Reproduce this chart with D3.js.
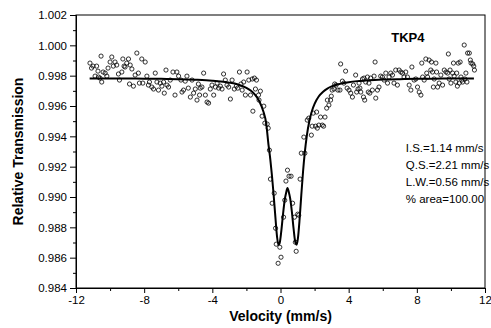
<!DOCTYPE html>
<html>
<head>
<meta charset="utf-8">
<script src="https://cdn.jsdelivr.net/npm/d3@7"></script>
<style>
  body { margin: 0; background: #fff; }
  svg { display: block; }
  text { font-family: "Liberation Sans", Arial, sans-serif; fill: #000; }
</style>
</head>
<body>
<div id="chart"></div>
<script>
const velocity = [
  -11.18,-11.09,-11.00,-10.88,-10.79,-10.71,-10.68,-10.59,-10.53,-10.49,-10.41,-10.29,-10.19,-10.12,-10.00,-9.90,-9.81,-9.71,-9.61,-9.51,-9.45,-9.31,-9.25,-9.18,-9.12,-9.02,-8.92,-8.86,-8.82,-8.72,-8.63,-8.53,-8.43,-8.34,-8.28,-8.14,-8.08,-7.94,-7.84,-7.75,-7.69,-7.55,-7.45,-7.35,-7.25,-7.16,-7.06,-6.96,-6.86,-6.82,-6.72,-6.66,-6.57,-6.47,-6.31,-6.19,-6.08,-5.98,
  -5.84,-5.78,-5.69,-5.59,-5.49,-5.41,-5.29,-5.19,-5.10,-5.00,-4.90,-4.82,-4.75,-4.71,-4.61,-4.51,-4.41,-4.31,-4.22,-4.12,-4.02,-3.92,-3.82,-3.72,-3.63,-3.53,-3.43,-3.34,-3.24,-3.14,-3.04,-2.94,-2.84,-2.71,-2.59,-2.51,-2.41,-2.32,-2.25,-2.16,-2.06,-1.96,-1.86,-1.76,-1.66,-1.62,-1.53,-1.47,-1.41,-1.29,-1.26,-1.18,-1.08,-0.98,
  -0.92,-0.78,-0.72,-0.65,-0.59,-0.49,-0.37,-0.29,-0.25,-0.14,-0.04,0.03,0.18,0.25,0.32,0.41,0.50,0.62,0.71,0.82,0.87,0.92,1.01,1.07,1.15,
  1.22,1.37,1.43,1.57,1.66,1.81,1.86,1.92,2.06,2.12,2.16,2.25,2.35,2.45,2.53,2.61,2.71,2.75,2.84,2.94,2.98,3.03,3.14,3.18,3.26,3.37,3.49,3.53,3.63,3.72,3.82,3.91,4.02,4.12,4.22,4.28,4.41,4.47,4.55,4.61,4.66,
  4.71,4.81,4.87,4.90,4.94,5.00,5.10,5.15,5.19,5.24,5.29,5.39,5.49,5.55,5.59,5.69,5.78,5.88,5.98,6.08,6.18,6.28,6.37,6.47,6.57,6.66,6.76,6.86,6.96,7.06,7.16,7.25,7.35,7.45,7.55,7.65,7.71,7.84,7.94,8.04,8.14,8.24,
  8.29,8.34,8.43,8.53,8.58,8.63,8.72,8.82,8.86,8.92,8.97,9.02,9.12,9.16,9.22,9.31,9.41,9.51,9.61,9.71,9.81,9.85,9.90,9.95,10.00,10.10,10.15,10.19,10.29,10.34,10.38,10.43,10.49,10.54,10.59,10.64,10.69,10.78,10.82,10.88,10.94,10.98,11.08,11.14,11.18,11.28,11.34,11.38
];
const transmission = [
  0.99883,0.99850,0.99863,0.99797,0.99863,0.99830,0.99791,0.99784,0.99929,0.99758,0.99824,0.99817,0.99797,0.99850,0.99890,0.99923,0.99863,0.99890,0.99870,0.99811,0.99771,0.99824,0.99910,0.99863,0.99857,0.99883,0.99910,0.99745,0.99870,0.99844,0.99731,0.99804,0.99949,0.99817,0.99751,0.99910,0.99751,0.99890,0.99797,0.99738,0.99758,0.99725,0.99712,0.99817,0.99758,0.99705,0.99751,0.99731,0.99758,0.99685,0.99837,0.99738,0.99725,0.99771,0.99824,0.99672,0.99824,0.99797,
  0.99771,0.99692,0.99705,0.99764,0.99797,0.99718,0.99659,0.99771,0.99685,0.99712,0.99639,0.99745,0.99672,0.99718,0.99725,0.99817,0.99672,0.99626,0.99619,0.99712,0.99738,0.99672,0.99725,0.99751,0.99718,0.99731,0.99712,0.99811,0.99771,0.99738,0.99725,0.99646,0.99771,0.99712,0.99731,0.99718,0.99824,0.99745,0.99705,0.99758,0.99672,0.99824,0.99771,0.99672,0.99778,0.99566,0.99784,0.99712,0.99771,0.99672,0.99639,0.99698,0.99533,0.99599,
  0.99487,0.99481,0.99454,0.99309,0.99118,0.98959,0.99025,0.98794,0.98689,0.98563,0.98669,0.98603,0.98867,0.98979,0.99105,0.99177,0.99137,0.99137,0.98959,0.98867,0.98702,0.98642,0.98887,0.98880,0.99118,
  0.99289,0.99395,0.99289,0.99507,0.99520,0.99408,0.99467,0.99553,0.99467,0.99560,0.99454,0.99474,0.99527,0.99474,0.99467,0.99527,0.99586,0.99639,0.99606,0.99639,0.99665,0.99705,0.99712,0.99745,0.99738,0.99705,0.99705,0.99877,0.99764,0.99751,0.99830,0.99718,0.99705,0.99685,0.99659,0.99738,0.99804,0.99692,0.99712,0.99751,0.99718,
  0.99692,0.99778,0.99659,0.99784,0.99639,0.99758,0.99791,0.99692,0.99751,0.99685,0.99784,0.99705,0.99797,0.99890,0.99652,0.99705,0.99725,0.99797,0.99791,0.99771,0.99817,0.99751,0.99791,0.99817,0.99804,0.99751,0.99837,0.99738,0.99837,0.99824,0.99817,0.99791,0.99824,0.99791,0.99738,0.99705,0.99857,0.99771,0.99778,0.99725,0.99692,0.99672,
  0.99883,0.99791,0.99771,0.99910,0.99817,0.99791,0.99903,0.99837,0.99890,0.99824,0.99725,0.99778,0.99883,0.99824,0.99725,0.99751,0.99804,0.99738,0.99837,0.99824,0.99817,0.99943,0.99778,0.99837,0.99751,0.99817,0.99883,0.99797,0.99758,0.99817,0.99731,0.99883,0.99751,0.99890,0.99791,0.99771,0.99758,1.00002,0.99778,0.99817,0.99758,0.99949,0.99949,0.99903,0.99883,0.99877,0.99863,0.99837
];

// fitted doublet
const fitVelocity = [-11.2,-10,-9,-8,-7,-6,-5,-4,-3.5,-3,-2.5,-2,-1.75,-1.5,-1.25,-1.0,-0.85,-0.7,-0.6,-0.5,-0.4,-0.3,-0.2,-0.12,-0.05,0.05,0.15,0.25,0.33,0.41,0.49,0.57,0.67,0.77,0.87,0.95,1.02,1.12,1.22,1.32,1.42,1.55,1.7,1.85,2.0,2.25,2.5,2.75,3,3.5,4,4.5,5,6,7,8,9,10,11.35];
const fitTransmission = [0.99782,0.99782,0.99781,0.99780,0.99779,0.99777,0.99773,0.99767,0.99762,0.99754,0.99742,0.99720,0.99702,0.99675,0.99633,0.99562,0.99494,0.99340,0.99250,0.99140,0.99010,0.98867,0.98735,0.98685,0.98696,0.98778,0.98889,0.98982,0.99028,0.99060,0.99032,0.98989,0.98900,0.98789,0.98701,0.98685,0.98725,0.98852,0.99012,0.99163,0.99287,0.99408,0.99504,0.99569,0.99614,0.99664,0.99694,0.99715,0.99729,0.99746,0.99757,0.99764,0.99768,0.99774,0.99777,0.99779,0.99780,0.99781,0.99782];

const xTicks = [-12, -8, -4, 0, 4, 8, 12];
const xMinorTicks = [-10, -6, -2, 2, 6, 10];
const yTicks = [0.984, 0.986, 0.988, 0.990, 0.992, 0.994, 0.996, 0.998, 1.000, 1.002];
const yMinorTicks = [0.985, 0.987, 0.989, 0.991, 0.993, 0.995, 0.997, 0.999, 1.001];
const sampleName = "TKP4";
const fitParams = ["I.S.=1.14 mm/s", "Q.S.=2.21 mm/s", "L.W.=0.56 mm/s", "% area=100.00"];

const width = 491, height = 328;
const margin = { top: 15, right: 6, bottom: 40, left: 76 };
const innerW = width - margin.left - margin.right;
const innerH = height - margin.top - margin.bottom;

const svg = d3.select("#chart").append("svg")
  .attr("width", width)
  .attr("height", height);

const g = svg.append("g")
  .attr("transform", `translate(${margin.left},${margin.top})`);

const x = d3.scaleLinear().domain([-12, 12]).range([0, innerW]);
const y = d3.scaleLinear().domain([0.984, 1.002]).range([innerH, 0]);

// frame (top and right)
g.append("rect")
  .attr("width", innerW).attr("height", innerH)
  .attr("fill", "none").attr("stroke", "#000").attr("stroke-width", 1);

// x axis
g.append("g")
  .attr("transform", `translate(0,${innerH})`)
  .call(d3.axisBottom(x).tickValues(xTicks).tickSize(5).tickPadding(3).tickFormat(d => String(d)));
g.append("g")
  .attr("transform", `translate(0,${innerH})`)
  .call(d3.axisBottom(x).tickValues(xMinorTicks).tickSize(3).tickFormat(""));

// y axis
g.append("g")
  .call(d3.axisLeft(y).tickValues(yTicks).tickSize(6).tickPadding(3).tickFormat(d3.format(".3f")));
g.append("g")
  .call(d3.axisLeft(y).tickValues(yMinorTicks).tickSize(3).tickFormat(""));

g.selectAll(".domain").attr("stroke", "#000");
g.selectAll(".tick line").attr("stroke", "#000");
g.selectAll(".tick text")
  .style("font-family", '"Liberation Sans", Arial, sans-serif')
  .style("font-size", "11.5px");

// fit curve
const line = d3.line()
  .x(d => x(d[0]))
  .y(d => y(d[1]))
  .curve(d3.curveMonotoneX);

g.append("path")
  .datum(fitVelocity.map((v, i) => [v, fitTransmission[i]]))
  .attr("fill", "none")
  .attr("stroke", "#000")
  .attr("stroke-width", 2)
  .attr("d", line);

// measured points
g.selectAll(".pt")
  .data(velocity.map((v, i) => [v, transmission[i]]))
  .enter().append("circle")
  .attr("class", "pt")
  .attr("cx", d => x(d[0]))
  .attr("cy", d => y(d[1]))
  .attr("r", 2.1)
  .attr("fill", "none")
  .attr("stroke", "#000")
  .attr("stroke-width", 0.8);

// labels
g.append("text")
  .attr("x", x(6.5)).attr("y", 27)
  .style("font-size", "13px").style("font-weight", "bold")
  .text(sampleName);

g.selectAll(".param")
  .data(fitParams)
  .enter().append("text")
  .attr("class", "param")
  .attr("x", x(7.35))
  .attr("y", (d, i) => 137 + i * 17)
  .style("font-size", "11.5px")
  .text(d => d);

svg.append("text")
  .attr("x", margin.left + innerW / 2)
  .attr("y", 321)
  .attr("text-anchor", "middle")
  .style("font-size", "14px").style("font-weight", "bold")
  .text("Velocity (mm/s)");

svg.append("text")
  .attr("transform", `translate(23,${margin.top + innerH / 2}) rotate(-90)`)
  .attr("text-anchor", "middle")
  .style("font-size", "14px").style("font-weight", "bold")
  .text("Relative Transmission");
</script>
</body>
</html>
